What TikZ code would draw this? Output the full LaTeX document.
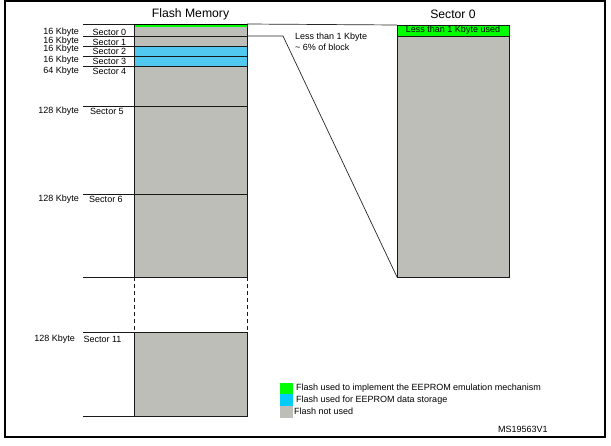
\documentclass[tikz,border=0pt]{standalone}
\usepackage{fontspec}
\setmainfont{Liberation Sans}
\definecolor{emugreen}{HTML}{00FF00}
\definecolor{datablue}{HTML}{50C8F0}
\definecolor{legblue}{HTML}{00CCFF}
\definecolor{unused}{HTML}{BEBEB9}
\begin{document}
\begin{tikzpicture}[x=1pt,y=-1pt,
  blk/.style={draw=black!90, line width=1pt, inner sep=0pt, outer sep=0pt, minimum width=113pt, anchor=north west, fill=unused},
  lbl/.style={inner sep=0pt, font=\fontsize{9}{10}\selectfont},
  ttl/.style={inner sep=0pt, font=\fontsize{12.2}{13}\selectfont},
  rule/.style={draw=black!90, line width=1pt},
  thin/.style={draw=black!85, line width=0.7pt},
  sw/.style={inner sep=0pt, minimum width=13pt, anchor=north west}
]
\useasboundingbox (0,0) rectangle (611,445);
\draw[line width=1.1pt] (5,1) rectangle (605,437);

% titles
\node[ttl] (ftitle) at (190.5,14) {Flash Memory};
\node[ttl] (stitle) at (453,14) {Sector 0};

% flash column
\node[blk, minimum height=12pt] (s0) at (134,24) {};
\fill[emugreen] ([shift={(0.5pt,-0.5pt)}]s0.north west) rectangle ([shift={(-0.5pt,-3pt)}]s0.north east);
\draw[line width=1pt] (s0.north west) -- (s0.north east);
\node[blk, minimum height=10pt] (s1) at (134,36) {};
\node[blk, minimum height=10pt, fill=datablue] (s2) at (134,46) {};
\node[blk, minimum height=10pt, fill=datablue] (s3) at (134,56) {};
\node[blk, minimum height=40pt] (s4) at (134,66) {};
\node[blk, minimum height=88pt] (s5) at (134,106) {};
\node[blk, minimum height=83pt] (s6) at (134,194) {};
\node[blk, minimum height=55pt, draw=none, fill=none] (gap) at (134,277) {};
\draw[rule, dashed, dash pattern=on 4pt off 3pt] (gap.north west) -- (gap.south west);
\draw[rule, dashed, dash pattern=on 4pt off 3pt] (gap.north east) -- (gap.south east);
\node[blk, minimum height=84pt] (s11) at (134,332) {};

% left rules
\foreach \n in {s0,s1,s2,s3,s4,s5,s6,s11} {
  \coordinate (l\n) at ([xshift=-51pt]\n.north west);
  \draw[rule] (l\n) -- (\n.north west);
}
\coordinate (lgap) at ([xshift=-51pt]gap.north west);
\draw[rule] (lgap) -- (gap.north west);
\coordinate (lend) at ([xshift=-51pt]s11.south west);
\draw[rule] (lend) -- (s11.south west);

% left labels
\node[lbl, anchor=east] (k0) at (79,32.5) {16 Kbyte};
\node[lbl] (n0) at (109.5,32.5) {Sector 0};
\node[lbl, anchor=east] (k1) at (79,41) {16 Kbyte};
\node[lbl] (n1) at (109.5,42) {Sector 1};
\node[lbl, anchor=east] (k2) at (79,49.5) {16 Kbyte};
\node[lbl] (n2) at (109.5,51) {Sector 2};
\node[lbl, anchor=east] (k3) at (79,60) {16 Kbyte};
\node[lbl] (n3) at (109.5,61) {Sector 3};
\node[lbl, anchor=east] (k4) at (79,71) {64 Kbyte};
\node[lbl] (n4) at (109.5,71) {Sector 4};
\node[lbl, anchor=east] (k5) at (79,111.5) {128 Kbyte};
\node[lbl] (n5) at (107,111.5) {Sector 5};
\node[lbl, anchor=east] (k6) at (79,199.5) {128 Kbyte};
\node[lbl] (n6) at (106,199.5) {Sector 6};
\node[lbl, anchor=east] (k11) at (75,339) {128 Kbyte};
\node[lbl] (n11) at (102.5,339) {Sector 11};

% sector 0 detail
\node[blk, minimum width=112pt, minimum height=11pt, fill=emugreen] (zg) at (397,25) {};
\node[lbl] (zgt) at (zg.center) {Less than 1 Kbyte used};
\node[blk, minimum width=112pt, minimum height=241pt] (zb) at (397,36) {};

% connectors
\draw[thin] (s0.north east) -- (zg.north west);
\coordinate (bend) at (283,36);
\draw[thin] (s0.south east) -- (bend) -- (zb.south west);
\node[lbl, anchor=west] (note1) at (295,37.5) {Less than 1 Kbyte};
\node[lbl, anchor=west] (note2) at (295,47.5) {\textasciitilde{} 6\% of block};

% legend
\node[sw, minimum height=11pt, fill=emugreen] (g1) at (280,383) {};
\node[sw, minimum height=12pt, fill=legblue] (g2) at (280,394) {};
\node[sw, minimum height=12pt, fill=unused] (g3) at (280,406) {};
\node[lbl, anchor=west] (t1) at (296,388.5) {Flash used to implement the EEPROM emulation mechanism};
\node[lbl, anchor=west] (t2) at (296,400) {Flash used for EEPROM data storage};
\node[lbl, anchor=west] (t3) at (294,411) {Flash not used};
\node[lbl, anchor=west] (ms) at (498,429.5) {MS19563V1};
\end{tikzpicture}
\end{document}
